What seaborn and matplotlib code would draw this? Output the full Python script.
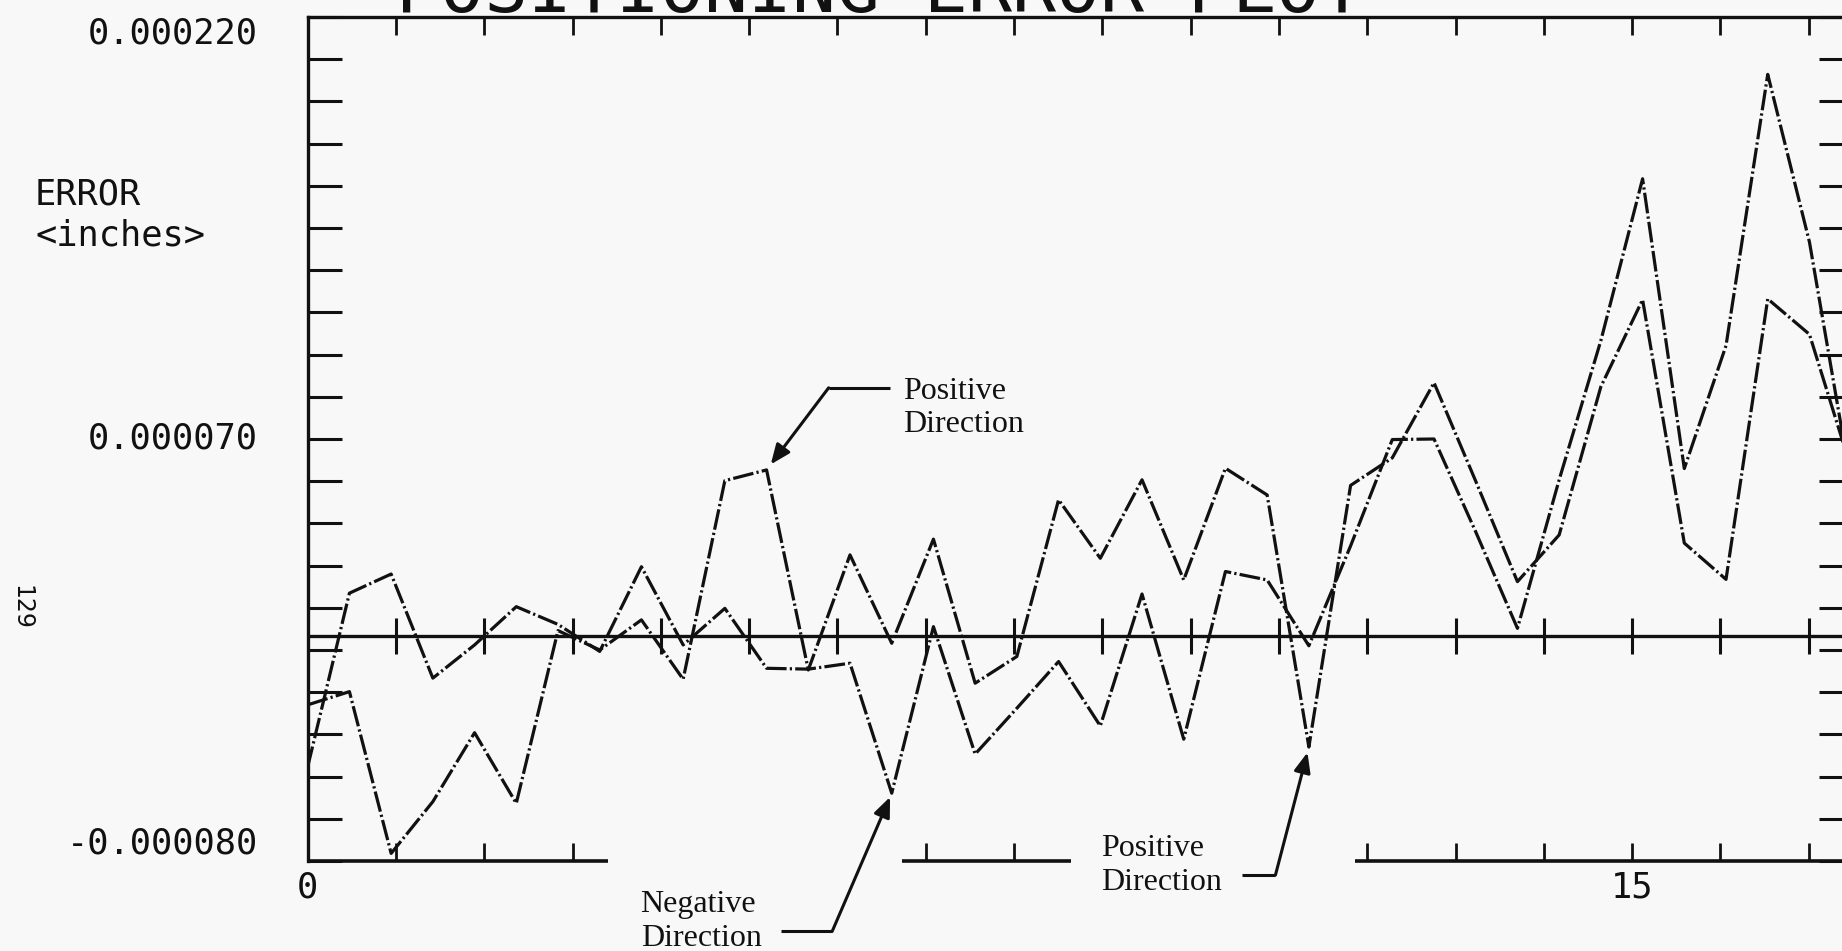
import numpy as np
import pandas as pd
import matplotlib
matplotlib.use("Agg")
import matplotlib.pyplot as plt
import seaborn as sns

# Measurement stations, one every 12 mm of travel, plotted in inches
station = np.arange(38)
position_in = station * 12 / 25.4

# Positioning error at each station, in micro-inches
positive_err = [-24.5, -19.8, -77.3, -58.9, -34.4, -59.5, 1.9, -5.0, 5.7, -15.4,
                55.2, 59.0, -12.1, 28.8, -2.6, 34.4, -16.8, -7.3, 48.4, 27.6,
                55.5, 19.9, 59.6, 50.1, -39.5, 53.5, 63.3, 90.0, 55.0, 19.3,
                35.9, 88.6, 119.5, 33.0, 20.1, 119.8, 107.2, 59.5]
negative_err = [-46.5, 15.2, 22.0, -15.0, -3.2, 10.4, 4.1, -5.5, 24.6, -3.2,
                9.8, -11.5, -11.8, -9.7, -55.9, 3.3, -42.0, -25.7, -9.1, -32.0,
                14.9, -36.7, 22.9, 19.9, -3.5, 32.0, 69.8, 70.0, 37.0, 2.7,
                55.5, 105.0, 162.5, 59.5, 103.2, 199.6, 140.0, 54.0]

# Axis furniture
y_ticks_uin = np.arange(-80, 221, 15)
y_labels = [(220, "0.000220", "top"), (70, "0.000070", "center"), (-80, "-0.000080", "bottom")]
x_labels = [(0, "0"), (15, "15")]
top_ticks = np.arange(1, 18)
zero_ticks = np.arange(1, 18)
bottom_ticks = [1, 2, 3, 7, 8, 12, 13, 14, 15, 16, 17]
bottom_axis_runs = [(0.0, 3.40), (6.73, 8.64), (11.86, 17.5)]

ink = "#111111"
paper = "#f8f8f8"
mono = "DejaVu Sans Mono"
serif = "Liberation Serif"

sns.set_style("white")
plt.rcParams["font.family"] = ["DejaVu Sans"]

df = pd.DataFrame({
    "position": np.concatenate([position_in, position_in]),
    "error": np.concatenate([np.array(positive_err), np.array(negative_err)]) * 1e-6,
    "direction": ["Positive"] * len(station) + ["Negative"] * len(station),
})

fig = plt.figure(figsize=(18.42, 9.51), dpi=100, facecolor=paper)
ax = fig.add_axes([0.16705, 0.09464, 0.83887, 0.88749])
ax.set_facecolor(paper)

dash = (6.5, 1.0, 0.7, 1.0)
sns.lineplot(data=df, x="position", y="error", hue="direction", style="direction",
             palette={"Positive": ink, "Negative": ink},
             dashes={"Positive": dash, "Negative": dash},
             linewidth=2.3, estimator=None, sort=False, legend=False, ax=ax)

ax.set_xlim(0, 17.5)
ax.set_ylim(-80e-6, 220e-6)
ax.set_xlabel("")
ax.set_ylabel("")

# Frame: left, top, right spines; bottom is drawn as broken runs
for side in ["left", "top", "right"]:
    ax.spines[side].set_linewidth(2.4)
    ax.spines[side].set_color(ink)
ax.spines["bottom"].set_visible(False)

ax.set_yticks(y_ticks_uin * 1e-6)
ax.set_yticklabels([])
ax.tick_params(axis="y", which="major", direction="in", left=True, right=True,
               length=24.5, width=2.2, color=ink, labelleft=False)
ax.set_xticks(top_ticks)
ax.set_xticklabels([])
ax.tick_params(axis="x", which="major", direction="in", top=True, bottom=False,
               length=13, width=2.0, color=ink, labelbottom=False, labeltop=False)

# Zero reference line with crossing ticks
ax.axhline(0, color=ink, lw=2.4)
ax.vlines(zero_ticks, -6.4e-6, 6.4e-6, color=ink, lw=2.2)

# Broken bottom axis with upward ticks
for a, b in bottom_axis_runs:
    ax.hlines(-80e-6, a, b, color=ink, lw=2.6, clip_on=False)
ax.vlines(bottom_ticks, -80e-6, -73.6e-6, color=ink, lw=2.0)

# Tick labels
ytf = ax.get_yaxis_transform()
for val, lab, va in y_labels:
    ax.text(-0.0322, val * 1e-6, lab, transform=ytf, ha="right", va=va,
            fontsize=25.5, family=mono, color=ink)
for val, lab in x_labels:
    ax.annotate(lab, xy=(val, -80e-6), xytext=(0, -7), textcoords="offset points",
                ha="center", va="top", fontsize=25.5, family=mono, color=ink,
                annotation_clip=False)

# Axis title and page furniture
fig.text(35 / 1842, 1 - 194 / 951, "ERROR", ha="left", va="center",
         fontsize=25.5, family=mono, color=ink)
fig.text(35 / 1842, 1 - 235 / 951, "<inches>", ha="left", va="center",
         fontsize=25.5, family=mono, color=ink)
fig.text(21 / 1842, 1 - 607 / 951, "129", rotation=270, ha="center", va="center",
         fontsize=17, color=ink)
fig.text(0.4777, 1 - 12 / 951, "POSITIONING ERROR PLOT", ha="center", va="baseline",
         fontsize=52.6, family=mono, color=ink)

# Callouts
arrow = dict(arrowstyle="-|>,head_length=0.6,head_width=0.25", lw=2.2, color=ink,
             shrinkA=0, mutation_scale=20)


def callout(label, text_xy, elbow_from, elbow_to, target, shrink):
    ax.text(text_xy[0], text_xy[1] * 1e-6, label, ha="left", va="top",
            fontsize=23, family=serif, color=ink, linespacing=1.22, clip_on=False)
    ax.plot([elbow_from, elbow_to], [text_xy[2] * 1e-6] * 2, color=ink, lw=2.2,
            clip_on=False, solid_capstyle="butt")
    ax.annotate("", xy=target, xytext=(elbow_to, text_xy[2] * 1e-6),
                arrowprops=dict(arrow, shrinkB=shrink), annotation_clip=False)


callout("Positive\nDirection", (6.74, 92.2, 88.2), 6.60, 5.90,
        (position_in[11], positive_err[11] * 1e-6), 5)
callout("Negative\nDirection", (3.77, -90.4, -105.0), 5.36, 5.94,
        (position_in[14], negative_err[14] * 1e-6), 3)
callout("Positive\nDirection", (8.98, -70.5, -85.0), 10.58, 10.96,
        (position_in[24], positive_err[24] * 1e-6), 4)

fig.savefig("out.png", dpi=100, facecolor=paper)
